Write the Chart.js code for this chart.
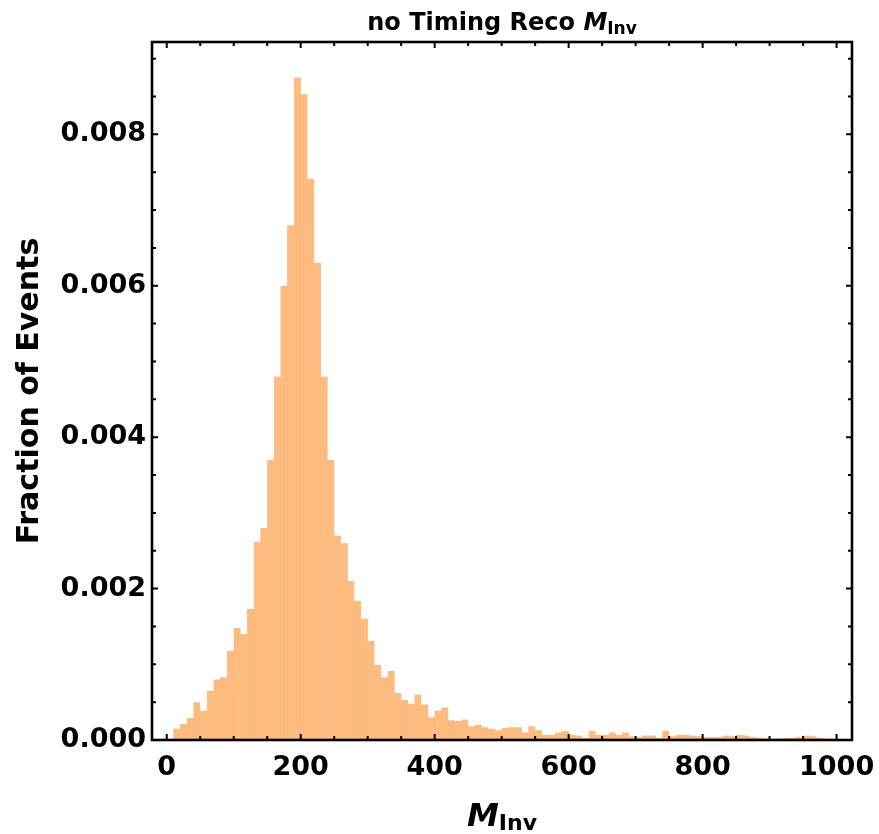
<!DOCTYPE html>
<html>
<head>
<meta charset="utf-8">
<script src="https://cdn.jsdelivr.net/npm/chart.js@4.4.1/dist/chart.umd.min.js"></script>
<style>
  html, body { margin: 0; padding: 0; background: #fff; }
</style>
</head>
<body>
<canvas id="histChart" width="879" height="834"></canvas>
<script>
// Histogram data: left edge of each 10-wide bin and its height
const binStarts = [
  10, 20, 30, 40, 50, 60, 70, 80, 90, 100, 110, 120, 130, 140, 150, 160, 170, 180, 190, 200,
  210, 220, 230, 240, 250, 260, 270, 280, 290, 300, 310, 320, 330, 340, 350, 360, 370, 380, 390, 400,
  410, 420, 430, 440, 450, 460, 470, 480, 490, 500, 510, 520, 530, 540, 550, 560, 570, 580, 590, 600,
  610, 620, 630, 640, 650, 660, 670, 680, 690, 700, 710, 720, 730, 740, 750, 760, 770, 780, 790, 800,
  810, 820, 830, 840, 850, 860, 870, 880, 890, 900, 910, 920, 930, 940, 950, 960, 970, 980
];
const fractions = [
  0.00015, 0.00021, 0.00029, 0.00050, 0.00039, 0.00065, 0.00080, 0.00083, 0.00118, 0.00148,
  0.00140, 0.00173, 0.00262, 0.00280, 0.00370, 0.00480, 0.00600, 0.00680, 0.00875, 0.00853,
  0.00741, 0.00630, 0.00480, 0.00370, 0.00270, 0.00260, 0.00210, 0.00184, 0.00160, 0.00131,
  0.00099, 0.00083, 0.00091, 0.00062, 0.00053, 0.00048, 0.00060, 0.00047, 0.00030, 0.00039,
  0.00043, 0.00026, 0.00025, 0.00027, 0.00018, 0.00020, 0.00017, 0.00015, 0.00013, 0.00016,
  0.00017, 0.00017, 0.00010, 0.00018, 0.00013, 0.00007, 0.00007, 0.00010, 0.00012, 0.00007,
  0.00006, 0.00003, 0.00012, 0.00007, 0.00007, 0.00010, 0.00007, 0.00010, 0.00005, 0.00004,
  0.00006, 0.00006, 0.00003, 0.00012, 0.00005, 0.00007, 0.00007, 0.00006, 0.00005, 0.00004,
  0.00004, 0.00004, 0.00006, 0.00005, 0.00007, 0.00006, 0.00004, 0.00003, 0.00002, 0.00002,
  0.00002, 0.00003, 0.00003, 0.00004, 0.00006, 0.00005, 0.00003, 0.00002
];
const binWidth = 10;

// Axis ticks
const xMajorTicks = [0, 200, 400, 600, 800, 1000];
const xMinorStep = 50;
const yMajorTicks = [0, 0.002, 0.004, 0.006, 0.008];
const yMinorStep = 0.0005;

const FONT = "'DejaVu Sans', sans-serif";

// Frame with inward ticks on all four sides, plus title and x label
const framePlugin = {
    id: 'frame',
    afterDraw(chart) {
        const { ctx, chartArea: a, scales } = chart;
        const xs = scales.x, ys = scales.y;
        ctx.save();
        ctx.strokeStyle = '#000';
        ctx.lineWidth = 2.6;
        ctx.strokeRect(a.left, a.top, a.right - a.left, a.bottom - a.top);

        ctx.lineWidth = 2;
        ctx.beginPath();
        for (let v = 0; v <= 1000; v += xMinorStep) {
            const len = xMajorTicks.includes(v) ? 6 : 4;
            const px = xs.getPixelForValue(v);
            ctx.moveTo(px, a.bottom); ctx.lineTo(px, a.bottom - len);
            ctx.moveTo(px, a.top); ctx.lineTo(px, a.top + len);
        }
        for (let i = 0; i * yMinorStep <= ys.max; i++) {
            const v = i * yMinorStep;
            const len = (i % 4 === 0) ? 6 : 4;
            const py = ys.getPixelForValue(v);
            ctx.moveTo(a.left, py); ctx.lineTo(a.left + len, py);
            ctx.moveTo(a.right, py); ctx.lineTo(a.right - len, py);
        }
        ctx.stroke();

        // title: "no Timing Reco M_Inv"
        ctx.fillStyle = '#000';
        ctx.textBaseline = 'alphabetic';
        ctx.textAlign = 'left';
        const t1 = 'no Timing Reco ';
        ctx.font = 'bold 24px ' + FONT;
        const w1 = ctx.measureText(t1).width;
        ctx.font = 'italic bold 24px ' + FONT;
        const wM = ctx.measureText('M').width;
        ctx.font = 'bold 17px ' + FONT;
        const wI = ctx.measureText('Inv').width;
        let tx = 502 - (w1 + wM + wI) / 2;
        ctx.font = 'bold 24px ' + FONT;
        ctx.fillText(t1, tx, 30);
        ctx.font = 'italic bold 24px ' + FONT;
        ctx.fillText('M', tx + w1, 30);
        ctx.font = 'bold 17px ' + FONT;
        ctx.fillText('Inv', tx + w1 + wM, 34);

        // x axis label: M_Inv
        ctx.font = 'italic bold 32px ' + FONT;
        const xM = ctx.measureText('M').width;
        ctx.font = 'bold 22px ' + FONT;
        const xI = ctx.measureText('Inv').width;
        let lx = 502 - (xM + xI) / 2;
        ctx.font = 'italic bold 32px ' + FONT;
        ctx.fillText('M', lx, 826);
        ctx.font = 'bold 22px ' + FONT;
        ctx.fillText('Inv', lx + xM, 830);
        ctx.restore();
    }
};

new Chart(document.getElementById('histChart'), {
    type: 'bar',
    data: {
        datasets: [{
            data: binStarts.map((b, i) => ({ x: b + binWidth / 2, y: fractions[i] })),
            backgroundColor: '#FEBB7E',
            borderColor: 'rgba(240,155,80,0.6)',
            borderWidth: { left: 0.8, right: 0.8, top: 0, bottom: 0 },
            barPercentage: 1,
            categoryPercentage: 1,
            grouped: false
        }]
    },
    options: {
        responsive: false,
        animation: false,
        devicePixelRatio: 1,
        layout: { padding: { top: 42, right: 27, left: 0, bottom: 0 } },
        plugins: { legend: { display: false }, tooltip: { enabled: false }, title: { display: false } },
        scales: {
            x: {
                type: 'linear',
                min: -22,
                max: 1023,
                offset: false,
                grid: { display: false, drawTicks: false },
                border: { display: false },
                afterBuildTicks: s => { s.ticks = xMajorTicks.map(v => ({ value: v })); },
                ticks: {
                    autoSkip: false,
                    maxRotation: 0,
                    padding: 12,
                    color: '#000',
                    font: { family: FONT, weight: 'bold', size: 27 },
                    callback: v => String(v)
                },
                afterFit: s => { s.height = 94; s.paddingLeft = 0; s.paddingRight = 0; }
            },
            y: {
                min: 0,
                max: 0.00922,
                grid: { display: false, drawTicks: false },
                border: { display: false },
                afterBuildTicks: s => { s.ticks = yMajorTicks.map(v => ({ value: v })); },
                ticks: {
                    autoSkip: false,
                    padding: 6,
                    color: '#000',
                    font: { family: FONT, weight: 'bold', size: 27 },
                    callback: v => v.toFixed(3)
                },
                title: {
                    display: true,
                    text: 'Fraction of Events',
                    color: '#000',
                    font: { family: FONT, weight: 'bold', size: 30 },
                    padding: { top: 12, bottom: 0 }
                },
                afterFit: s => { s.width = 152; s.paddingTop = 0; s.paddingBottom = 0; }
            }
        }
    },
    plugins: [framePlugin]
});
</script>
</body>
</html>
